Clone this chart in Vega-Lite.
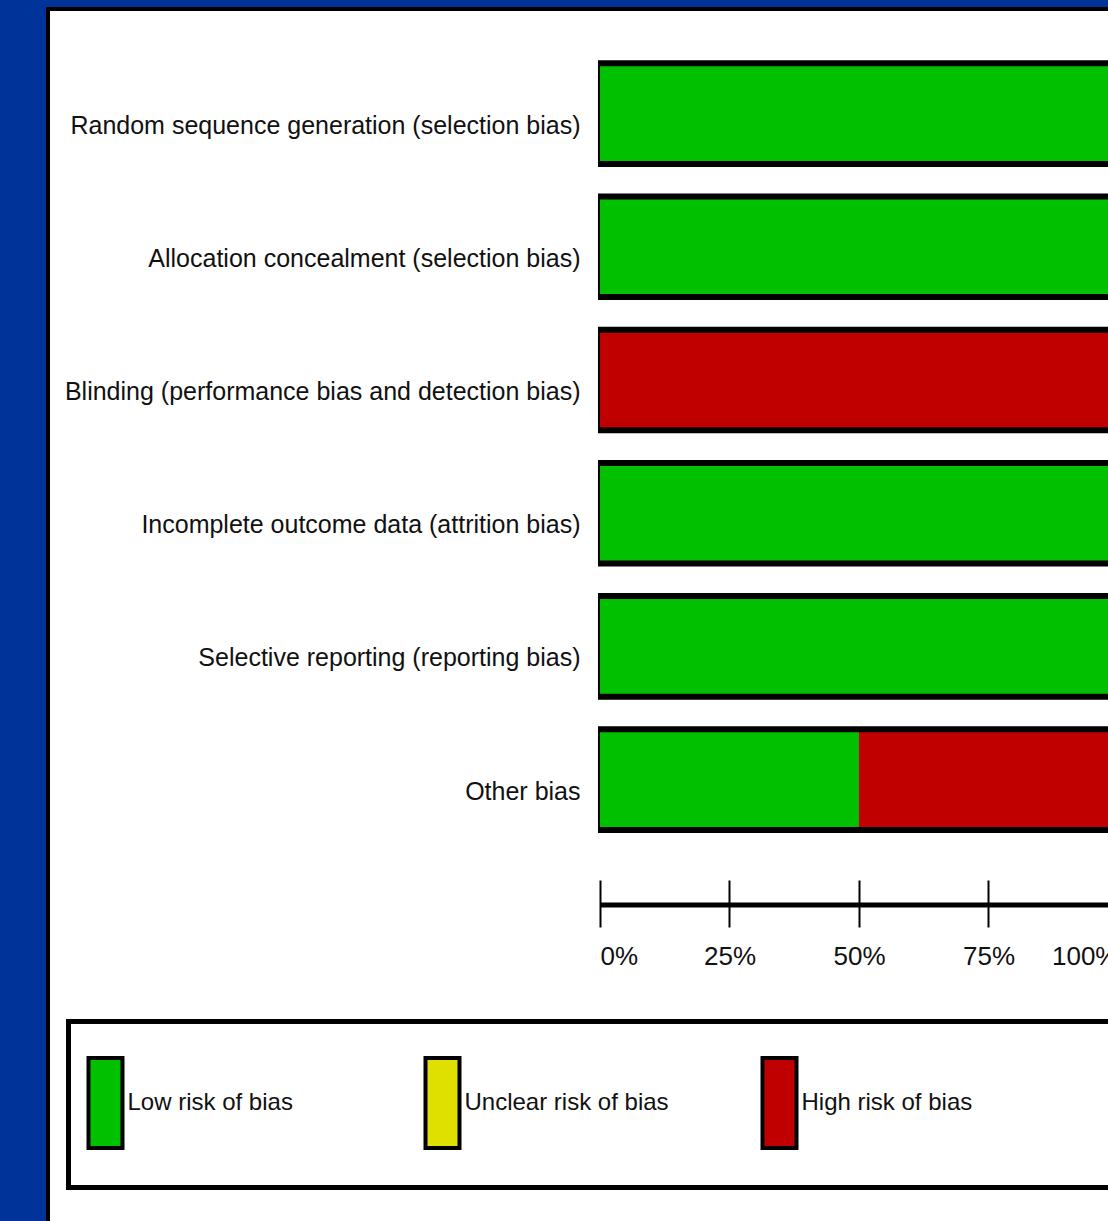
{
  "$schema": "https://vega.github.io/schema/vega-lite/v6.json",
  "autosize": "none",
  "padding": {"left": 48, "top": 9, "right": 0, "bottom": 0},
  "width": 1102,
  "height": 1221,
  "background": "#003399",
  "config": {
    "view": {"fill": "white", "stroke": "black", "strokeWidth": 4},
    "font": "Liberation Sans, Arial, sans-serif",
    "legend": {"strokeWidth": 5}
  },
  "data": {
    "values": [
      {"domain": "Random sequence generation (selection bias)", "risk": "Low risk of bias", "pct": 100, "k": 1},
      {"domain": "Allocation concealment (selection bias)", "risk": "Low risk of bias", "pct": 100, "k": 1},
      {"domain": "Blinding (performance bias and detection bias)", "risk": "High risk of bias", "pct": 100, "k": 3},
      {"domain": "Incomplete outcome data (attrition bias)", "risk": "Low risk of bias", "pct": 100, "k": 1},
      {"domain": "Selective reporting (reporting bias)", "risk": "Low risk of bias", "pct": 100, "k": 1},
      {"domain": "Other bias", "risk": "Low risk of bias", "pct": 50, "k": 1},
      {"domain": "Other bias", "risk": "High risk of bias", "pct": 50, "k": 3}
    ]
  },
  "encoding": {
    "y": {
      "field": "domain", "type": "nominal", "sort": null,
      "scale": {"paddingInner": 0, "paddingOuter": 0, "range": [38, 837.2]},
      "axis": {
        "title": null, "orient": "left", "offset": -552, "domain": false, "ticks": false, "tickSize": 0,
        "labelPadding": 20, "labelFontSize": 25, "labelColor": "#111", "labelLimit": 0,
        "labelOffset": 12, "labelFont": "Liberation Sans, Arial, sans-serif"
      }
    },
    "order": {"field": "k", "type": "quantitative"}
  },
  "layer": [
    {
      "mark": {"type": "bar", "color": "black", "height": {"band": 0.8}, "xOffset": -2},
      "encoding": {
        "x": {
          "field": "pct", "type": "quantitative", "stack": "normalize",
          "scale": {"domain": [-1.0656, 1.0618], "nice": false, "zero": false},
          "axis": {
            "title": null, "orient": "bottom", "offset": -325.5, "labels": false, "ticks": false, "grid": false,
            "domain": true, "domainColor": "black", "domainWidth": 5, "domainDash": [0, 552, 518, 3000]
          }
        }
      }
    },
    {
      "mark": {"type": "bar", "height": {"band": 0.71}},
      "encoding": {
        "x": {
          "field": "pct", "type": "quantitative", "stack": "normalize",
          "axis": {
            "title": null, "orient": "bottom", "offset": -350, "domain": false, "grid": false,
            "values": [0, 0.25, 0.5, 0.75, 1], "format": ".0%",
            "ticks": true, "tickSize": 47, "tickWidth": 2, "tickColor": "black",
            "labelPadding": 16, "labelFontSize": 26, "labelColor": "#111", "labelOverlap": false, "labelBound": false,
            "labelFont": "Liberation Sans, Arial, sans-serif",
            "labelAlign": {"condition": [{"test": "datum.value <= 0", "value": "left"}, {"test": "datum.value >= 1", "value": "right"}], "value": "center"}
          }
        },
        "color": {
          "field": "risk", "type": "nominal",
          "scale": {"domain": ["Low risk of bias", "Unclear risk of bias", "High risk of bias"], "range": ["#00c000", "#e0e000", "#c00000"]},
          "legend": {
            "title": null, "orient": "none", "legendX": 20.5, "legendY": 1012.5,
            "direction": "horizontal", "columns": 3, "gridAlign": "all", "columnPadding": -6,
            "symbolType": "M-1,0.951M4.31,0M-1,-0.7317H-0.4472V0.7317H-1Z", "symbolSize": 15129,
            "symbolStrokeColor": "black", "symbolStrokeWidth": 4, "symbolOpacity": 1,
            "labelFontSize": 24, "labelOffset": -86, "labelColor": "#111", "labelLimit": 0,
            "labelFont": "Liberation Sans, Arial, sans-serif",
            "strokeColor": "black", "fillColor": "white", "padding": 18
          }
        }
      }
    }
  ],
  "resolve": {"axis": {"x": "independent"}}
}
